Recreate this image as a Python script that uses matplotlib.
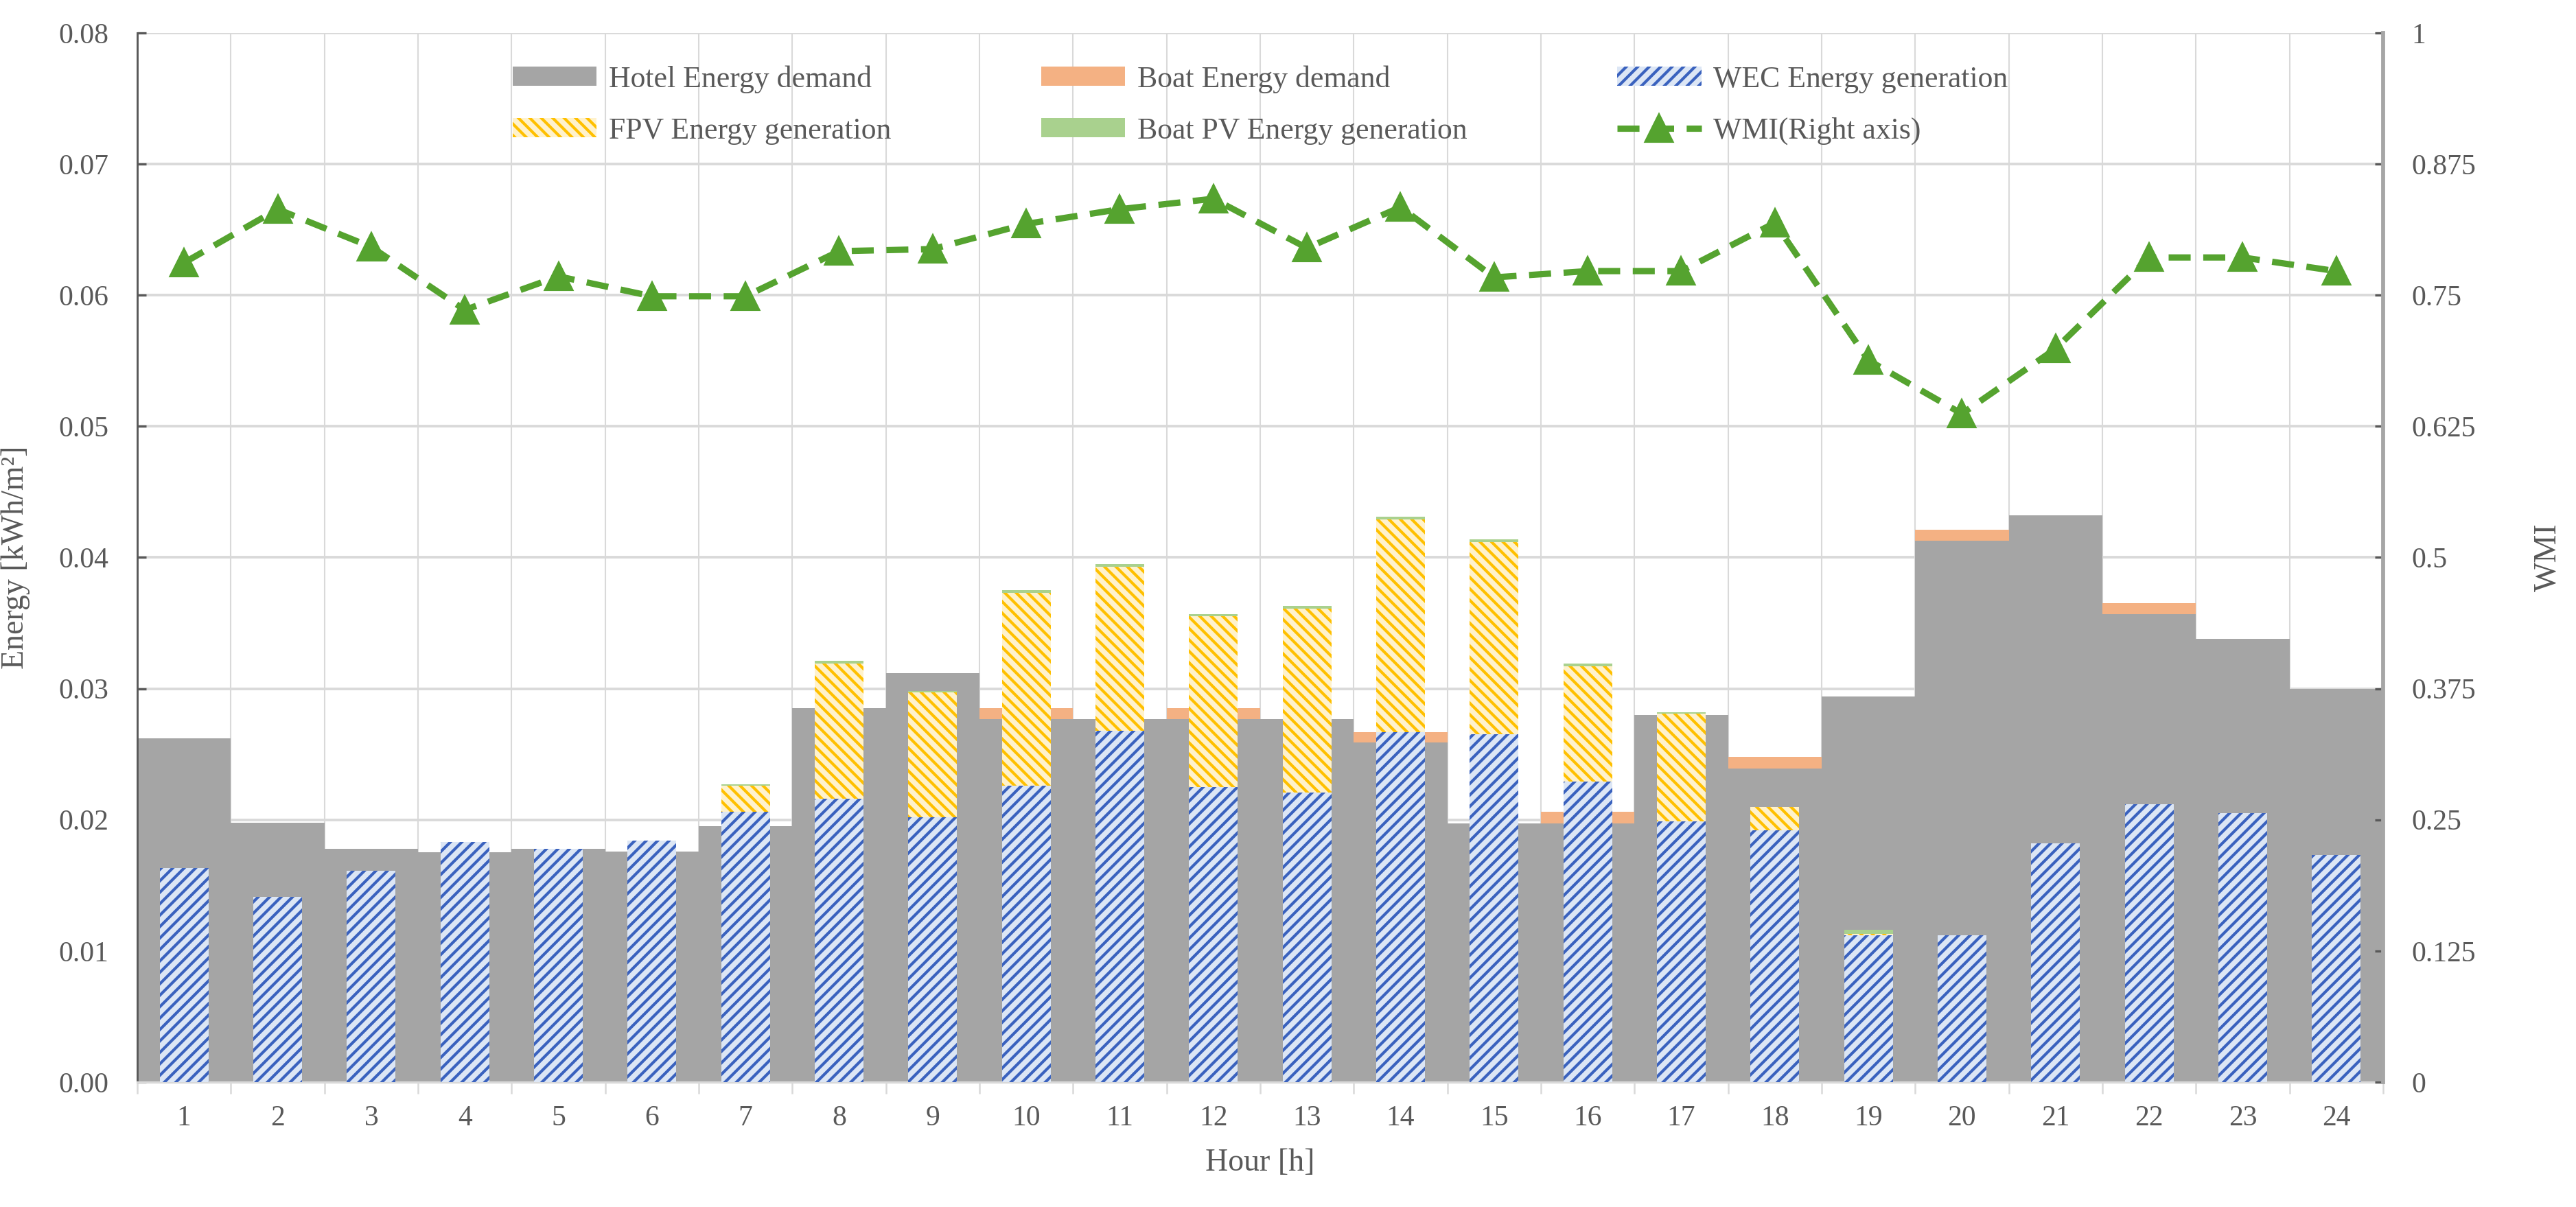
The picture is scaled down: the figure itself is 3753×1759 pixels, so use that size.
import numpy as np
import matplotlib
matplotlib.use("Agg")
import matplotlib.pyplot as plt

hours = list(range(1, 25))
hotel_demand = [0.0262, 0.0198, 0.0178, 0.0175, 0.0178, 0.0176, 0.0195, 0.0285,
                0.0312, 0.0277, 0.0277, 0.0277, 0.0277, 0.0259, 0.0197, 0.0197,
                0.0280, 0.0239, 0.0294, 0.0413, 0.0432, 0.0357, 0.0338, 0.0300]
boat_demand = [0, 0, 0, 0, 0, 0, 0, 0, 0, 0.0008, 0, 0.0008,
               0, 0.0008, 0, 0.0009, 0, 0.0009, 0, 0.0008, 0, 0.0008, 0, 0]
wec_gen = [0.0163, 0.0141, 0.0161, 0.0183, 0.0178, 0.0184, 0.0206, 0.0216,
           0.0202, 0.0226, 0.0268, 0.0225, 0.0221, 0.0267, 0.0265, 0.0229,
           0.0199, 0.0192, 0.0112, 0.0112, 0.0182, 0.0212, 0.0205, 0.0173]
fpv_gen = [0, 0, 0, 0, 0, 0, 0.0020, 0.0103, 0.0095, 0.0147, 0.0125, 0.0130,
           0.0140, 0.0162, 0.0147, 0.0088, 0.0082, 0.0018, 0.0001, 0, 0, 0, 0, 0]
boat_pv_gen = [0, 0, 0, 0, 0, 0, 0.0001, 0.0002, 0.0001, 0.0002, 0.0002, 0.0002,
               0.0002, 0.0002, 0.0002, 0.0002, 0.0001, 0, 0.0003, 0, 0, 0, 0, 0]
wmi = [0.781, 0.832, 0.796, 0.736, 0.768, 0.749, 0.749, 0.792, 0.794, 0.818,
       0.832, 0.842, 0.795, 0.834, 0.767, 0.773, 0.773, 0.819, 0.688, 0.637,
       0.699, 0.786, 0.786, 0.773]

plt.rcParams['font.family'] = ['Liberation Serif', 'DejaVu Serif']
plt.rcParams['hatch.linewidth'] = 1.0
txt = '#595959'

fig = plt.figure(figsize=(3753 / 300, 1759 / 300), dpi=300)
ax = fig.add_axes([0.0533, 0.1035, 0.8718, 0.8692])

x = np.array(hours)
hotel = np.array(hotel_demand)
wec = np.array(wec_gen)
fpv = np.array(fpv_gen)

ax.bar(x, hotel, width=1.0, color='#A5A5A5', linewidth=0, zorder=2,
       label='Hotel Energy demand')
ax.bar(x, boat_demand, width=1.0, bottom=hotel, color='#F4B183', linewidth=0,
       zorder=2, label='Boat Energy demand')
ax.bar(x, wec, width=0.52, color='#DCE6F5', edgecolor='#3A62BE', linewidth=0,
       hatch='//////', zorder=3, label='WEC Energy generation')
ax.bar(x, fpv, width=0.52, bottom=wec, color='#FFF2CC', edgecolor='#FFC000',
       linewidth=0, hatch='\\\\\\\\\\\\', zorder=3, label='FPV Energy generation')
ax.bar(x, boat_pv_gen, width=0.52, bottom=wec + fpv, color='#A9D18E',
       linewidth=0, zorder=3, label='Boat PV Energy generation')

ax.set_xlim(0.5, 24.5)
ax.set_ylim(0, 0.08)
ax.set_xticks(hours)
ax.set_xticks(np.arange(0.5, 25, 1), minor=True)
ax.set_yticks(np.arange(0, 0.081, 0.01))
ax.yaxis.set_major_formatter(matplotlib.ticker.FormatStrFormatter('%.2f'))
ax.tick_params(axis='x', which='major', length=0, pad=8, labelsize=10, labelcolor=txt)
ax.tick_params(axis='x', which='minor', length=4, color='#D9D9D9', width=0.6)
ax.tick_params(axis='y', direction='in', length=3, color='#595959', pad=10,
               labelsize=10, labelcolor=txt)
ax.grid(axis='y', which='major', color='#D9D9D9', linewidth=0.9, zorder=0)
ax.grid(axis='x', which='minor', color='#D9D9D9', linewidth=0.5, zorder=0)
ax.set_axisbelow(True)
ax.spines['top'].set_visible(False)
ax.spines['right'].set_visible(False)
ax.spines['bottom'].set_color('#D9D9D9')
ax.spines['bottom'].set_linewidth(0.8)
ax.spines['left'].set_color('#595959')
ax.spines['left'].set_linewidth(0.7)
ax.set_xlabel('Hour [h]', fontsize=11, color=txt, labelpad=6)
ax.set_ylabel('Energy [kWh/m²]', fontsize=11, color=txt, labelpad=10)

ax2 = ax.twinx()
ax2.plot(x, wmi, color='#55A32F', linewidth=2.2, dashes=(3.5, 2),
         marker='^', markersize=9, markerfacecolor='#55A32F',
         markeredgecolor='#55A32F', label='WMI(Right axis)', zorder=5)
ax2.set_ylim(0, 1)
ax2.set_yticks(np.arange(0, 1.001, 0.125))
ax2.set_yticklabels(['0', '0.125', '0.25', '0.375', '0.5', '0.625', '0.75', '0.875', '1'])
ax2.tick_params(axis='y', direction='in', length=3, color='#595959', pad=10,
                labelsize=10, labelcolor=txt)
for s in ['top', 'left', 'bottom']:
    ax2.spines[s].set_visible(False)
ax2.spines['right'].set_color('#A6A6A6')
ax2.spines['right'].set_linewidth(1.4)
ax2.set_ylabel('WMI', fontsize=11, color=txt, labelpad=20)

h1, l1 = ax.get_legend_handles_labels()
h2, l2 = ax2.get_legend_handles_labels()
handles = [h1[0], h1[3], h1[1], h1[4], h1[2], h2[0]]
labels = [l1[0], l1[3], l1[1], l1[4], l1[2], l2[0]]
ax2.legend(handles, labels, ncol=3, loc='upper left', bbox_to_anchor=(0.155, 0.995),
           frameon=False, fontsize=10.5, handlelength=2.8, handleheight=0.6,
           handletextpad=0.4, columnspacing=5.0, labelspacing=0.8,
           labelcolor=txt)

fig.savefig('out.png', dpi=300)
